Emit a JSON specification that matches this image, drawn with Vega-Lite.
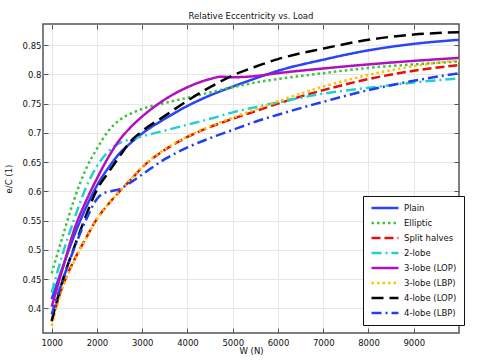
{
  "$schema": "https://vega.github.io/schema/vega-lite/v6.json",
  "width": 416,
  "height": 309,
  "padding": {"left": 4, "top": 12, "right": 5, "bottom": 3},
  "background": "white",
  "config": {
    "font": "DejaVu Sans",
    "view": {"stroke": "#555", "strokeWidth": 1.5},
    "axis": {"labelFontSize": 8.5, "labelColor": "#111", "titleFontSize": 8.5, "titleFontWeight": "normal", "titleColor": "#111", "gridColor": "#e6e6e6", "gridWidth": 1, "domain": false, "tickColor": "#555", "tickWidth": 1}
  },
  "title": {"text": "Relative Eccentricity vs. Load", "fontSize": 8.5, "fontWeight": "normal", "color": "#111", "offset": 3, "anchor": "middle"},
  "data": {"values": [
    {"s":"Plain","W":1000,"v":0.416},{"s":"Plain","W":1250,"v":0.472},{"s":"Plain","W":1500,"v":0.525},{"s":"Plain","W":1750,"v":0.571},{"s":"Plain","W":2000,"v":0.61},{"s":"Plain","W":2250,"v":0.64},{"s":"Plain","W":2500,"v":0.665},{"s":"Plain","W":2750,"v":0.683},{"s":"Plain","W":3000,"v":0.699},{"s":"Plain","W":3500,"v":0.724},{"s":"Plain","W":4000,"v":0.746},{"s":"Plain","W":4500,"v":0.764},{"s":"Plain","W":5000,"v":0.779},{"s":"Plain","W":5500,"v":0.793},{"s":"Plain","W":6000,"v":0.806},{"s":"Plain","W":7000,"v":0.825},{"s":"Plain","W":8000,"v":0.841},{"s":"Plain","W":9000,"v":0.852},{"s":"Plain","W":10000,"v":0.859},
    {"s":"Elliptic","W":1000,"v":0.46},{"s":"Elliptic","W":1250,"v":0.525},{"s":"Elliptic","W":1500,"v":0.587},{"s":"Elliptic","W":1750,"v":0.637},{"s":"Elliptic","W":2000,"v":0.673},{"s":"Elliptic","W":2250,"v":0.703},{"s":"Elliptic","W":2500,"v":0.722},{"s":"Elliptic","W":2750,"v":0.733},{"s":"Elliptic","W":3000,"v":0.741},{"s":"Elliptic","W":3500,"v":0.751},{"s":"Elliptic","W":4000,"v":0.76},{"s":"Elliptic","W":4500,"v":0.769},{"s":"Elliptic","W":5000,"v":0.778},{"s":"Elliptic","W":5500,"v":0.786},{"s":"Elliptic","W":6000,"v":0.792},{"s":"Elliptic","W":7000,"v":0.802},{"s":"Elliptic","W":8000,"v":0.811},{"s":"Elliptic","W":9000,"v":0.817},{"s":"Elliptic","W":10000,"v":0.822},
    {"s":"Split halves","W":1000,"v":0.378},{"s":"Split halves","W":1250,"v":0.44},{"s":"Split halves","W":1500,"v":0.483},{"s":"Split halves","W":1750,"v":0.519},{"s":"Split halves","W":2000,"v":0.553},{"s":"Split halves","W":2250,"v":0.578},{"s":"Split halves","W":2500,"v":0.6},{"s":"Split halves","W":2750,"v":0.62},{"s":"Split halves","W":3000,"v":0.641},{"s":"Split halves","W":3500,"v":0.671},{"s":"Split halves","W":4000,"v":0.693},{"s":"Split halves","W":4500,"v":0.71},{"s":"Split halves","W":5000,"v":0.724},{"s":"Split halves","W":5500,"v":0.737},{"s":"Split halves","W":6000,"v":0.75},{"s":"Split halves","W":7000,"v":0.773},{"s":"Split halves","W":8000,"v":0.792},{"s":"Split halves","W":9000,"v":0.806},{"s":"Split halves","W":10000,"v":0.816},
    {"s":"2-lobe","W":1000,"v":0.427},{"s":"2-lobe","W":1250,"v":0.495},{"s":"2-lobe","W":1500,"v":0.553},{"s":"2-lobe","W":1750,"v":0.605},{"s":"2-lobe","W":2000,"v":0.643},{"s":"2-lobe","W":2250,"v":0.668},{"s":"2-lobe","W":2400,"v":0.678},{"s":"2-lobe","W":2600,"v":0.686},{"s":"2-lobe","W":2750,"v":0.689},{"s":"2-lobe","W":3000,"v":0.694},{"s":"2-lobe","W":3500,"v":0.704},{"s":"2-lobe","W":4000,"v":0.714},{"s":"2-lobe","W":4500,"v":0.724},{"s":"2-lobe","W":5000,"v":0.735},{"s":"2-lobe","W":5500,"v":0.744},{"s":"2-lobe","W":6000,"v":0.752},{"s":"2-lobe","W":7000,"v":0.767},{"s":"2-lobe","W":8000,"v":0.777},{"s":"2-lobe","W":9000,"v":0.786},{"s":"2-lobe","W":10000,"v":0.793},
    {"s":"3-lobe (LOP)","W":1000,"v":0.403},{"s":"3-lobe (LOP)","W":1250,"v":0.47},{"s":"3-lobe (LOP)","W":1500,"v":0.535},{"s":"3-lobe (LOP)","W":1750,"v":0.582},{"s":"3-lobe (LOP)","W":2000,"v":0.622},{"s":"3-lobe (LOP)","W":2250,"v":0.658},{"s":"3-lobe (LOP)","W":2500,"v":0.688},{"s":"3-lobe (LOP)","W":2750,"v":0.71},{"s":"3-lobe (LOP)","W":3000,"v":0.728},{"s":"3-lobe (LOP)","W":3500,"v":0.757},{"s":"3-lobe (LOP)","W":4000,"v":0.778},{"s":"3-lobe (LOP)","W":4500,"v":0.792},{"s":"3-lobe (LOP)","W":4750,"v":0.796},{"s":"3-lobe (LOP)","W":5000,"v":0.795},{"s":"3-lobe (LOP)","W":5500,"v":0.797},{"s":"3-lobe (LOP)","W":6000,"v":0.802},{"s":"3-lobe (LOP)","W":7000,"v":0.81},{"s":"3-lobe (LOP)","W":8000,"v":0.817},{"s":"3-lobe (LOP)","W":9000,"v":0.823},{"s":"3-lobe (LOP)","W":10000,"v":0.828},
    {"s":"3-lobe (LBP)","W":1000,"v":0.37},{"s":"3-lobe (LBP)","W":1250,"v":0.437},{"s":"3-lobe (LBP)","W":1500,"v":0.481},{"s":"3-lobe (LBP)","W":1750,"v":0.518},{"s":"3-lobe (LBP)","W":2000,"v":0.552},{"s":"3-lobe (LBP)","W":2250,"v":0.578},{"s":"3-lobe (LBP)","W":2500,"v":0.6},{"s":"3-lobe (LBP)","W":2750,"v":0.621},{"s":"3-lobe (LBP)","W":3000,"v":0.642},{"s":"3-lobe (LBP)","W":3500,"v":0.672},{"s":"3-lobe (LBP)","W":4000,"v":0.694},{"s":"3-lobe (LBP)","W":4500,"v":0.711},{"s":"3-lobe (LBP)","W":5000,"v":0.726},{"s":"3-lobe (LBP)","W":5500,"v":0.74},{"s":"3-lobe (LBP)","W":6000,"v":0.754},{"s":"3-lobe (LBP)","W":7000,"v":0.779},{"s":"3-lobe (LBP)","W":8000,"v":0.799},{"s":"3-lobe (LBP)","W":9000,"v":0.814},{"s":"3-lobe (LBP)","W":10000,"v":0.824},
    {"s":"4-lobe (LOP)","W":1000,"v":0.379},{"s":"4-lobe (LOP)","W":1250,"v":0.45},{"s":"4-lobe (LOP)","W":1500,"v":0.505},{"s":"4-lobe (LOP)","W":1750,"v":0.557},{"s":"4-lobe (LOP)","W":2000,"v":0.603},{"s":"4-lobe (LOP)","W":2250,"v":0.632},{"s":"4-lobe (LOP)","W":2500,"v":0.66},{"s":"4-lobe (LOP)","W":2750,"v":0.686},{"s":"4-lobe (LOP)","W":3000,"v":0.703},{"s":"4-lobe (LOP)","W":3500,"v":0.729},{"s":"4-lobe (LOP)","W":4000,"v":0.755},{"s":"4-lobe (LOP)","W":4500,"v":0.778},{"s":"4-lobe (LOP)","W":5000,"v":0.798},{"s":"4-lobe (LOP)","W":5500,"v":0.813},{"s":"4-lobe (LOP)","W":6000,"v":0.826},{"s":"4-lobe (LOP)","W":7000,"v":0.844},{"s":"4-lobe (LOP)","W":8000,"v":0.859},{"s":"4-lobe (LOP)","W":9000,"v":0.868},{"s":"4-lobe (LOP)","W":10000,"v":0.872},
    {"s":"4-lobe (LBP)","W":1000,"v":0.39},{"s":"4-lobe (LBP)","W":1250,"v":0.45},{"s":"4-lobe (LBP)","W":1500,"v":0.503},{"s":"4-lobe (LBP)","W":1750,"v":0.55},{"s":"4-lobe (LBP)","W":2000,"v":0.587},{"s":"4-lobe (LBP)","W":2100,"v":0.595},{"s":"4-lobe (LBP)","W":2300,"v":0.6},{"s":"4-lobe (LBP)","W":2500,"v":0.604},{"s":"4-lobe (LBP)","W":2700,"v":0.613},{"s":"4-lobe (LBP)","W":3000,"v":0.629},{"s":"4-lobe (LBP)","W":3500,"v":0.655},{"s":"4-lobe (LBP)","W":4000,"v":0.675},{"s":"4-lobe (LBP)","W":4500,"v":0.691},{"s":"4-lobe (LBP)","W":5000,"v":0.705},{"s":"4-lobe (LBP)","W":5500,"v":0.719},{"s":"4-lobe (LBP)","W":6000,"v":0.731},{"s":"4-lobe (LBP)","W":7000,"v":0.753},{"s":"4-lobe (LBP)","W":8000,"v":0.773},{"s":"4-lobe (LBP)","W":9000,"v":0.789},{"s":"4-lobe (LBP)","W":10000,"v":0.802}
  ]},
  "layer": [
    {
      "mark": {"type": "line", "strokeWidth": 2.5, "interpolate": "monotone", "clip": true},
      "encoding": {
        "x": {"field": "W", "type": "quantitative", "scale": {"domain": [808, 10000], "nice": false, "zero": false},
              "axis": {"orient": "bottom", "values": [1000,2000,3000,4000,5000,6000,7000,8000,9000], "format": "d", "title": "W (N)", "tickSize": -5, "labelPadding": 10, "titlePadding": 0}},
        "y": {"field": "v", "type": "quantitative", "scale": {"domain": [0.358, 0.886], "nice": false, "zero": false},
              "axis": {"orient": "left", "values": [0.4,0.45,0.5,0.55,0.6,0.65,0.7,0.75,0.8,0.85], "format": "~g", "title": "e/C (1)", "tickSize": -5, "labelPadding": 7, "titlePadding": 9}},
        "color": {"field": "s", "type": "nominal",
                  "scale": {"domain": ["Plain","Elliptic","Split halves","2-lobe","3-lobe (LOP)","3-lobe (LBP)","4-lobe (LOP)","4-lobe (LBP)"],
                            "range": ["#2a45f5","#3cc43c","#e01010","#20d0d0","#b010c0","#ffc000","#000000","#2040f0"]},
                  "legend": {"title": null, "orient": "none", "legendX": 320, "legendY": 172, "symbolType": "M-1,0H6.7", "symbolSize": 49, "symbolStrokeWidth": 2.5, "labelFontSize": 8.5, "labelColor": "#111", "rowPadding": 5, "padding": 7, "fillColor": "white", "strokeColor": "#111", "labelOffset": 24}},
        "strokeDash": {"field": "s", "type": "nominal",
                  "scale": {"domain": ["Plain","Elliptic","Split halves","2-lobe","3-lobe (LOP)","3-lobe (LBP)","4-lobe (LOP)","4-lobe (LBP)"],
                            "range": [[1,0],[2.5,3],[9,4],[10,4,2,4],[1,0],[2.5,3],[12,6],[10,4,2,4]]},
                  "legend": null}
      }
    },
    {
      "mark": {"type": "line", "strokeOpacity": 0},
      "encoding": {
        "x": {"field": "W", "type": "quantitative", "axis": {"orient": "top", "values": [1000,2000,3000,4000,5000,6000,7000,8000,9000], "labels": false, "grid": false, "tickSize": -5, "title": null}},
        "y": {"field": "v", "type": "quantitative", "axis": {"orient": "right", "values": [0.4,0.45,0.5,0.55,0.6,0.65,0.7,0.75,0.8,0.85], "labels": false, "grid": false, "tickSize": -5, "title": null}}
      }
    }
  ],
  "resolve": {"axis": {"x": "independent", "y": "independent"}}
}
